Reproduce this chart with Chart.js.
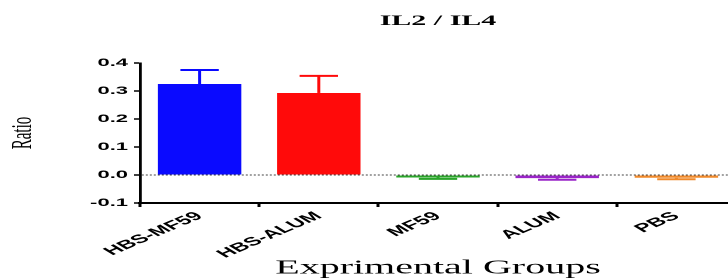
<!DOCTYPE html>
<html>
<head>
<meta charset="utf-8">
<script src="https://cdn.jsdelivr.net/npm/chart.js@4/dist/chart.umd.min.js"></script>
<style>
  html, body { margin: 0; padding: 0; background: #ffffff; overflow: hidden; }
  #wrap { width: 728px; height: 280px; overflow: hidden; position: relative; background: #fff; }
  #c { position: absolute; left: 0; top: 0; transform: scaleX(2); transform-origin: 0 0; }
</style>
</head>
<body>
<div id="wrap"><canvas id="c" width="368" height="280"></canvas></div>
<script>
// ---- data ----
const categories = ['HBS-MF59', 'HBS-ALUM', 'MF59', 'ALUM', 'PBS'];
const ratioMeans = [0.325, 0.293, -0.009, -0.011, -0.010];
const ratioErrors = [0.050, 0.061, 0.005, 0.006, 0.005];
const yMin = -0.1, yMax = 0.4, yStep = 0.1;
const chartTitle = 'IL2 / IL4';
const xTitle = 'Exprimental Groups';
const yTitle = 'Ratio';

// ---- styles ----
const barColors = ['#0a0aff', '#ff0a0a', '#2aa52a', '#9a25c8', '#f0892a'];

const errorBarPlugin = {
  id: 'errorBars',
  afterDatasetsDraw(chart) {
    const ctx = chart.ctx;
    const yScale = chart.scales.y;
    const meta = chart.getDatasetMeta(0);
    meta.data.forEach((el, i) => {
      const v = ratioMeans[i], e = ratioErrors[i];
      const end = v >= 0 ? v + e : v - e;
      const yEnd = yScale.getPixelForValue(end);
      const yBar = yScale.getPixelForValue(v);
      const half = el.width * 0.23;
      ctx.save();
      ctx.strokeStyle = barColors[i];
      ctx.lineWidth = 1.5;
      ctx.beginPath();
      ctx.moveTo(el.x, yBar);
      ctx.lineTo(el.x, yEnd);
      ctx.stroke();
      ctx.lineWidth = 2;
      ctx.beginPath();
      ctx.moveTo(el.x - half, yEnd);
      ctx.lineTo(el.x + half, yEnd);
      ctx.stroke();
      ctx.restore();
    });
  }
};

new Chart(document.getElementById('c'), {
  type: 'bar',
  data: {
    labels: categories,
    datasets: [{
      data: ratioMeans,
      backgroundColor: barColors,
      borderWidth: 0,
      barPercentage: 0.7,
      categoryPercentage: 1.0
    }]
  },
  options: {
    responsive: false,
    animation: false,
    devicePixelRatio: 2,
    layout: { padding: 0 },
    plugins: {
      legend: { display: false },
      tooltip: { enabled: false },
      title: {
        display: true,
        text: chartTitle,
        fullSize: false,
        color: '#000',
        font: { family: '"Liberation Serif", "Times New Roman", serif', size: 15, weight: 'bold', lineHeight: 1.2 },
        padding: { top: 12, bottom: 33 }
      }
    },
    scales: {
      x: {
        grid: { display: true, drawOnChartArea: false, drawTicks: true, tickLength: 4, tickColor: '#000', tickWidth: 1.5, color: 'rgba(0,0,0,0)' },
        border: { display: true, color: '#000', width: 2 },
        ticks: {
          color: '#000',
          autoSkip: false,
          minRotation: 40,
          maxRotation: 40,
          padding: 2,
          font: { family: '"Liberation Sans", Arial, sans-serif', size: 12, weight: 'bold' }
        },
        title: {
          display: true,
          text: xTitle,
          color: '#000',
          font: { family: '"Liberation Serif", "Times New Roman", serif', size: 20, lineHeight: 1 },
          padding: { top: 0, bottom: 2 }
        },
        afterFit(scale) { scale.height = 77; }
      },
      y: {
        min: yMin,
        max: yMax,
        ticks: {
          stepSize: yStep,
          color: '#000',
          padding: 3,
          font: { family: '"Liberation Sans", Arial, sans-serif', size: 11, weight: 'bold' },
          callback: (v) => Number(v).toFixed(1)
        },
        grid: {
          drawOnChartArea: true,
          drawTicks: true,
          tickLength: 3,
          tickColor: '#000',
          tickWidth: 1.5,
          lineWidth: 1,
          color: (c) => (c.tick && Math.abs(c.tick.value) < 1e-9) ? '#444' : 'rgba(0,0,0,0)'
        },
        border: { display: true, color: '#000', width: 1.4, dash: [1, 1] },
        title: {
          display: true,
          text: yTitle,
          color: '#000',
          font: { family: '"Liberation Serif", "Times New Roman", serif', size: 15, lineHeight: 1 },
          padding: { top: 4, bottom: 0 }
        },
        afterFit(scale) { scale.width = 70; }
      }
    }
  },
  plugins: [errorBarPlugin]
});
</script>
</body>
</html>
